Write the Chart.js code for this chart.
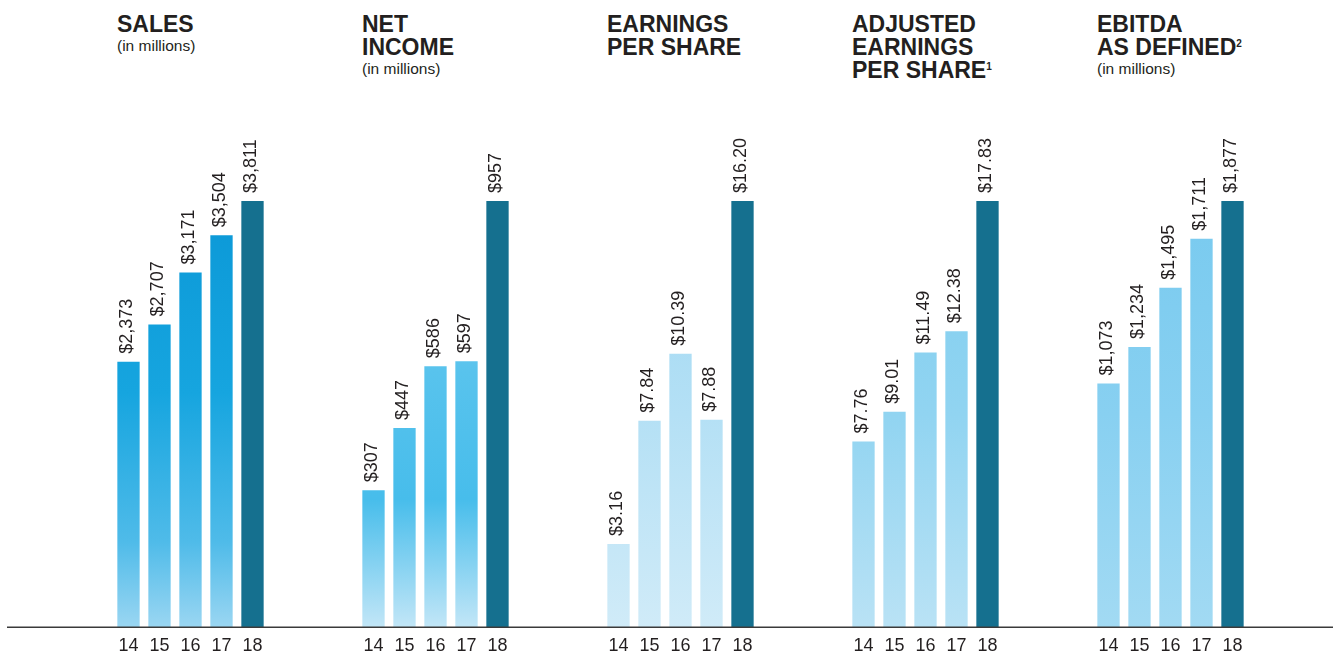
<!DOCTYPE html>
<html><head><meta charset="utf-8">
<script src="https://cdn.jsdelivr.net/npm/chart.js@4.4.1/dist/chart.umd.min.js"></script>
<style>
html,body{margin:0;padding:0;background:#fff;}
body{width:1340px;height:654px;overflow:hidden;position:relative;font-family:"Liberation Sans",Arial,Helvetica,sans-serif;color:#231f20;}
canvas{position:absolute;top:0;}
.ttl{position:absolute;top:12.5px;white-space:nowrap;}
.ttl .h{font-weight:bold;font-size:23px;line-height:23px;}
.ttl .s{font-size:15.5px;line-height:20px;}
.sup{font-size:10px;line-height:10px;vertical-align:top;position:relative;top:3px;}
</style></head>
<body>
<div class="ttl" style="left:117px"><div class="h">SALES</div><div class="s">(in millions)</div></div>
<div class="ttl" style="left:362px"><div class="h">NET<br>INCOME</div><div class="s">(in millions)</div></div>
<div class="ttl" style="left:607px"><div class="h">EARNINGS<br>PER SHARE</div></div>
<div class="ttl" style="left:852px"><div class="h">ADJUSTED<br>EARNINGS<br>PER SHARE<span class="sup">1</span></div></div>
<div class="ttl" style="left:1097px"><div class="h">EBITDA<br>AS DEFINED<span class="sup">2</span></div><div class="s">(in millions)</div></div>

<canvas id="c0" width="306" height="654" style="left:7px"></canvas>
<canvas id="c1" width="245" height="654" style="left:313px"></canvas>
<canvas id="c2" width="245" height="654" style="left:558px"></canvas>
<canvas id="c3" width="245" height="654" style="left:803px"></canvas>
<canvas id="c4" width="285" height="654" style="left:1048px"></canvas>

<script>
// ---- data ----
const years = ['14', '15', '16', '17', '18'];
const sales = [2373, 2707, 3171, 3504, 3811];
const netIncome = [307, 447, 586, 597, 957];
const eps = [3.16, 7.84, 10.39, 7.88, 16.20];
const adjustedEps = [7.76, 9.01, 11.49, 12.38, 17.83];
const ebitda = [1073, 1234, 1495, 1711, 1877];
const decimals = [0, 0, 2, 2, 0];

// ---- styles ----
const FONT = '"Liberation Sans", Arial, Helvetica, sans-serif';
const TEXT = '#231f20';
const DARK = '#15708f';
const gradStops = [
  [[0, '#0b98d7'], [0.45, '#16a5df'], [0.8, '#4fbbe9'], [1, '#9ad6f2']],
  [[0, '#8fd2f2'], [0.4, '#58c3ed'], [0.7, '#47bdeb'], [1, '#c2e6f7']],
  [[0, '#9cd7f3'], [0.5, '#b4e0f5'], [1, '#d0ebf8']],
  [[0, '#7ecdef'], [0.5, '#91d4f1'], [1, '#b9e2f5']],
  [[0, '#78caef'], [0.5, '#88d0f1'], [1, '#a2daf3']]
];
const padLeft = [106, 45, 45, 45, 45];
const padRight = [45, 45, 45, 45, 85];

function fmt(v, d) {
  return '$' + v.toLocaleString('en-US', {minimumFractionDigits: d, maximumFractionDigits: d});
}

function barFill(stops) {
  return (c) => {
    if (c.dataIndex === c.dataset.data.length - 1) return DARK;
    const area = c.chart.chartArea;
    if (!area) return stops[0][1];
    const g = c.chart.ctx.createLinearGradient(0, area.top, 0, area.bottom);
    stops.forEach(([o, col]) => g.addColorStop(o, col));
    return g;
  };
}

const valueLabels = {
  id: 'valueLabels',
  afterDatasetsDraw(chart, args, opts) {
    const ctx = chart.ctx;
    const meta = chart.getDatasetMeta(0);
    const data = chart.data.datasets[0].data;
    ctx.save();
    ctx.font = '18px ' + FONT;
    ctx.fillStyle = TEXT;
    ctx.textAlign = 'left';
    ctx.textBaseline = 'middle';
    meta.data.forEach((bar, i) => {
      ctx.save();
      ctx.translate(bar.x - 1, bar.y - 8);
      ctx.rotate(-Math.PI / 2);
      ctx.fillText(fmt(data[i], opts.decimals), 0, 0);
      ctx.restore();
    });
    const y0 = Math.round(chart.scales.y.getPixelForValue(0));
    ctx.strokeStyle = '#3a3a3a';
    ctx.lineWidth = 1.5;
    ctx.beginPath();
    ctx.moveTo(0, y0 + 0.25);
    ctx.lineTo(chart.width, y0 + 0.25);
    ctx.stroke();
    ctx.restore();
  }
};

const series = [sales, netIncome, eps, adjustedEps, ebitda];
series.forEach((vals, k) => {
  new Chart(document.getElementById('c' + k), {
    type: 'bar',
    data: {
      labels: years,
      datasets: [{
        data: vals,
        backgroundColor: barFill(gradStops[k]),
        borderWidth: 0,
        barPercentage: 0.72,
        categoryPercentage: 1
      }]
    },
    options: {
      responsive: false,
      animation: false,
      events: [],
      layout: {padding: {top: 201, left: padLeft[k], right: padRight[k], bottom: 0}},
      plugins: {
        legend: {display: false},
        tooltip: {enabled: false},
        valueLabels: {decimals: decimals[k]}
      },
      scales: {
        x: {
          grid: {display: false, drawTicks: false},
          border: {display: false},
          ticks: {color: TEXT, font: {size: 18, family: FONT}, padding: 8.5},
          afterFit(s) { s.height = 27; }
        },
        y: {display: false, min: 0, max: Math.max(...vals)}
      }
    },
    plugins: [valueLabels]
  });
});
</script>
</body></html>
